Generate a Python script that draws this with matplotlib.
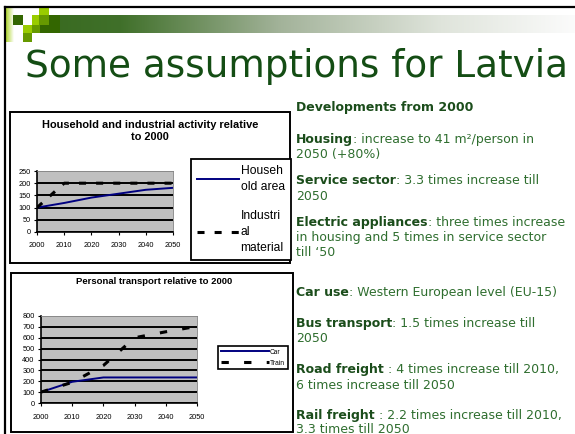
import numpy as np
import matplotlib
matplotlib.use("Agg")
import matplotlib.pyplot as plt
from matplotlib.patches import Rectangle
from matplotlib.colors import LinearSegmentedColormap

W, H = 575, 434

# data
years = [2000, 2010, 2020, 2030, 2040, 2050]
household = [100, 119, 141, 157, 173, 181]
industrial = [100, 200, 200, 200, 200, 200]
car = [100, 195, 235, 235, 235, 235]
train = [100, 190, 345, 600, 655, 705]
y1_ticks = [0, 50, 100, 150, 200, 250]
y2_ticks = [0, 100, 200, 300, 400, 500, 600, 700, 800]

title = "Some assumptions for Latvia"
chart1_title = "Household and industrial activity relative\nto 2000"
chart2_title = "Personal transport relative to 2000"

# right hand text: (baseline y px, bold part, normal part)
notes = [
    (111, "Developments from 2000", ""),
    (143, "Housing", ": increase to 41 m²/person in"),
    (158, "", "2050 (+80%)"),
    (184, "Service sector", ": 3.3 times increase till"),
    (200, "", "2050"),
    (226, "Electric appliances", ": three times increase"),
    (241, "", "in housing and 5 times in service sector"),
    (256, "", "till \u201850"),
    (296, "Car use", ": Western European level (EU-15)"),
    (327, "Bus transport", ": 1.5 times increase till"),
    (342, "", "2050"),
    (373, "Road freight", " : 4 times increase till 2010,"),
    (389, "", "6 times increase till 2050"),
    (419, "Rail freight", " : 2.2 times increase till 2010,"),
    (433, "", "3.3 times till 2050"),
]

dark = "#1b4d1b"
mid = "#2f6e2f"
chartfont = "Liberation Sans"


def rect(x0, y0, x1, y1):
    return [x0 / W, 1 - y1 / H, (x1 - x0) / W, (y1 - y0) / H]


fig = plt.figure(figsize=(W / 100, H / 100), dpi=100)
fig.patch.set_facecolor("white")

# slide decoration, pixel coordinates
deco = fig.add_axes([0, 0, 1, 1])
bar_cmap = LinearSegmentedColormap.from_list(
    "bar", [(0, "#386a1f"), (0.15, "#40702a"), (0.45, "#a3b39a"),
            (0.75, "#dfe4db"), (1, "#fbfbfb")])
deco.imshow(np.linspace(0, 1, 256)[None, :], cmap=bar_cmap,
            extent=(40, 575, 33, 15), aspect="auto")
strip_cmap = LinearSegmentedColormap.from_list("strip", ["#a6d11a", "#ffffff"])
deco.imshow(np.linspace(0, 1, 64)[None, :], cmap=strip_cmap,
            extent=(5, 14, 42, 8), aspect="auto")
squares = [
    (39, 8, 49, 15, "#99cc00"),
    (13, 15, 23, 25, "#336600"),
    (32, 15, 39, 25, "#99cc00"),
    (39, 15, 49, 25, "#669900"),
    (49, 15, 60, 25, "#336600"),
    (23, 25, 32, 33, "#99cc00"),
    (32, 25, 40, 33, "#669900"),
    (40, 25, 60, 33, "#336600"),
    (23, 33, 32, 42, "#669900"),
]
for x0, y0, x1, y1, c in squares:
    deco.add_patch(Rectangle((x0, y0), x1 - x0, y1 - y0, color=c, lw=0))
deco.plot([5, 575], [7, 7], color="black", lw=1.6)
deco.plot([5, 5], [7, 434], color="black", lw=1.6)
deco.add_patch(Rectangle((10, 112), 280, 151, fill=False, ec="black", lw=1.4))
deco.add_patch(Rectangle((11, 273), 282, 159, fill=False, ec="black", lw=1.4))
deco.set_xlim(0, W)
deco.set_ylim(H, 0)
deco.axis("off")

fig.text(25 / W, 1 - 77 / H, title, fontsize=26.9, color="#144d14",
         family="DejaVu Sans", va="baseline")


def style_chart(ax, ticks):
    ax.set_facecolor("#c0c0c0")
    ax.set_xlim(years[0], years[-1])
    ax.set_ylim(ticks[0], ticks[-1])
    ax.set_xticks(years)
    ax.set_yticks(ticks)
    ax.grid(axis="y", color="black", lw=1.4)
    ax.get_ygridlines()[-1].set_visible(False)
    ax.set_axisbelow(True)
    ax.tick_params(labelsize=5.3, length=2, width=0.8, pad=2.5)
    for lab in ax.get_xticklabels() + ax.get_yticklabels():
        lab.set_family(chartfont)
    for s in ["left", "bottom"]:
        ax.spines[s].set_color("black")
        ax.spines[s].set_linewidth(1.2)
    for s in ["top", "right"]:
        ax.spines[s].set_color("#808080")
        ax.spines[s].set_linewidth(0.6)


# chart 1
ax1 = fig.add_axes(rect(37, 171, 173, 232))
style_chart(ax1, y1_ticks)
ax1.plot(years, household, color="#000080", lw=1.4, label="Househ\nold area")
ax1.plot(years, industrial, color="black", lw=2.2, dashes=(2.3, 3.3),
         label="Industri\nal\nmaterial")
ax1.tick_params(axis="x", pad=5)
fig.text(150 / W, 1 - 131 / H, chart1_title, ha="center", va="center",
         fontsize=7.9, fontweight="bold", family=chartfont, linespacing=1.2)
leg1 = ax1.legend(loc="upper left", bbox_to_anchor=(191 / W, 1 - 159 / H),
                  bbox_transform=fig.transFigure, fancybox=False,
                  edgecolor="black", framealpha=1,
                  prop={"family": chartfont, "size": 8.7},
                  handlelength=3.5, handletextpad=0.1, labelspacing=1.4,
                  borderpad=0.5, borderaxespad=0)
leg1.get_frame().set_linewidth(1.3)
for t in leg1.get_texts():
    t.set_linespacing(1.45)

# chart 2
ax2 = fig.add_axes(rect(41, 316, 197, 403))
style_chart(ax2, y2_ticks)
ax2.plot(years, car, color="#000080", lw=1.4, label="Car")
ax2.plot(years, train, color="black", lw=2.2, dashes=(2.4, 5.0), label="Train")
ax2.tick_params(axis="x", pad=6)
fig.text(154 / W, 1 - 282 / H, chart2_title, ha="center", va="center",
         fontsize=6.8, fontweight="bold", family=chartfont)
leg2 = ax2.legend(loc="upper left", bbox_to_anchor=(218 / W, 1 - 346 / H),
                  bbox_transform=fig.transFigure, fancybox=False,
                  edgecolor="black", framealpha=1,
                  prop={"family": chartfont, "size": 4.8},
                  handlelength=7.2, handletextpad=0.2, labelspacing=0.6,
                  borderpad=0.4, borderaxespad=0)
leg2.get_frame().set_linewidth(1.2)

# notes on the right
renderer = fig.canvas.get_renderer()
for y, bold, normal in notes:
    x = 296
    if bold:
        t = fig.text(x / W, 1 - y / H, bold, fontsize=9.0, fontweight="bold",
                     color=dark, family="DejaVu Sans", va="baseline")
        x = t.get_window_extent(renderer).x1
    if normal:
        fig.text(x / W, 1 - y / H, normal, fontsize=9.0, color=mid,
                 family="DejaVu Sans", va="baseline")

fig.savefig("out.png", dpi=100)
